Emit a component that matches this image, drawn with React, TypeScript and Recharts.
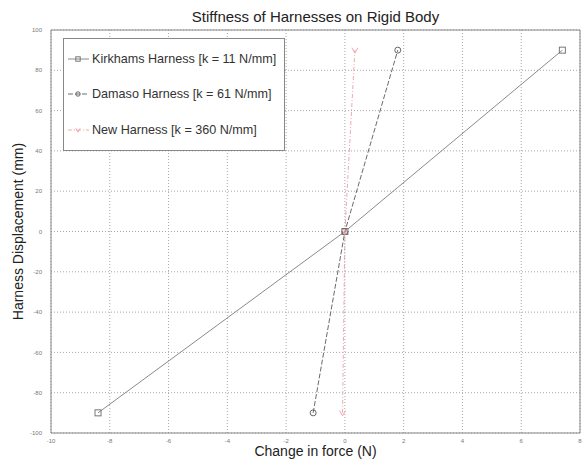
import { CartesianGrid, Line, LineChart, ReferenceArea, XAxis, YAxis } from "recharts"

const xTicks = [-10, -8, -6, -4, -2, 0, 2, 4, 6, 8]
const yTicks = [-100, -80, -60, -40, -20, 0, 20, 40, 60, 80, 100]

const kirkhamsForce = [-8.4, 0, 7.4]
const kirkhamsDisp = [-90, 0, 90]
const damasoForce = [-1.08, 0, 1.8]
const damasoDisp = [-90, 0, 90]
const newForce = [-0.08, 0, 0.34]
const newDisp = [-90, 0, 90]

const toPoints = (xs: number[], ys: number[]) => xs.map((x, i) => ({ force: x, disp: ys[i] }))

const SERIES = [
  {
    key: "kirkhams",
    name: "Kirkhams Harness [k = 11 N/mm]",
    data: toPoints(kirkhamsForce, kirkhamsDisp),
    color: "#8a8a8a",
    dash: undefined as string | undefined,
    marker: "square",
  },
  {
    key: "damaso",
    name: "Damaso Harness [k = 61 N/mm]",
    data: toPoints(damasoForce, damasoDisp),
    color: "#6a6a6a",
    dash: "5 2",
    marker: "circle",
  },
  {
    key: "new",
    name: "New Harness [k = 360 N/mm]",
    data: toPoints(newForce, newDisp),
    color: "#f0a8b2",
    dash: "4 2 1 2",
    marker: "tri",
  },
]

const FONT = "Arial, 'Liberation Sans', Helvetica, sans-serif"

function Marker({ cx, cy, kind, color, size = 3 }: { cx: number; cy: number; kind: string; color: string; size?: number }) {
  if (cx == null || cy == null) return null
  if (kind === "square")
    return <rect x={cx - size} y={cy - size} width={size * 2} height={size * 2} fill="none" stroke="#777" strokeWidth={1} />
  if (kind === "circle") return <circle cx={cx} cy={cy} r={size} fill="none" stroke="#666" strokeWidth={1} />
  return (
    <path
      d={`M${cx - size},${cy - size * 0.8} L${cx},${cy + size} L${cx + size},${cy - size * 0.8}`}
      fill="none"
      stroke={color}
      strokeWidth={1}
    />
  )
}

function LegendBox() {
  return (
    <div
      style={{
        position: "absolute",
        left: 63,
        top: 38,
        width: 222,
        height: 113,
        border: "1px solid #888",
        background: "#fff",
        fontFamily: FONT,
        fontSize: 12.6,
        color: "#333",
        boxSizing: "border-box",
        paddingTop: 2,
      }}
    >
      {SERIES.map((s) => (
        <div key={s.key} style={{ display: "flex", alignItems: "center", height: 35.5 }}>
          <svg width={25} height={10} style={{ marginLeft: 3 }}>
            <line x1={1} y1={5} x2={22} y2={5} stroke={s.color} strokeWidth={1} strokeDasharray={s.dash} />
            <Marker cx={11} cy={5} kind={s.marker} color={s.color} size={2.2} />
          </svg>
          <span>{s.name}</span>
        </div>
      ))}
    </div>
  )
}

const captionStyle = {
  position: "absolute" as const,
  left: 51,
  width: 529,
  textAlign: "center" as const,
  fontFamily: FONT,
  color: "#222",
}

export default function App() {
  return (
    <div style={{ position: "absolute", left: 0, top: 0, width: 585, height: 459, background: "#fff" }}>
      <div style={{ ...captionStyle, top: 9, fontSize: 15, lineHeight: "16px" }}>Stiffness of Harnesses on Rigid Body</div>
      <LineChart width={585} height={459} margin={{ top: 30, right: 5, bottom: 0, left: 0 }}>
        <CartesianGrid stroke="#a8a8a8" strokeDasharray="1 2" />
        <XAxis
          type="number"
          dataKey="force"
          domain={[-10, 8]}
          ticks={xTicks}
          interval={0}
          height={26}
          axisLine={false}
          tickLine={false}
          tickMargin={0}
          tick={{ fontSize: 6, fill: "#777", fontFamily: FONT }}
          allowDataOverflow
        />
        <YAxis
          type="number"
          dataKey="disp"
          domain={[-100, 100]}
          ticks={yTicks}
          interval={0}
          width={51}
          axisLine={false}
          tickLine={false}
          tickMargin={3}
          tick={{ fontSize: 6, fill: "#777", fontFamily: FONT }}
          label={{
            value: "Harness Displacement (mm)",
            angle: -90,
            position: "insideLeft",
            offset: 18,
            style: { fontSize: 14, fill: "#222", fontFamily: FONT, textAnchor: "middle" },
          }}
          allowDataOverflow
        />
        <ReferenceArea x1={-10} x2={8} y1={-100} y2={100} fill="none" stroke="#888" strokeWidth={1} ifOverflow="visible" />
        {SERIES.map((s) => (
          <Line
            key={s.key}
            data={s.data}
            dataKey="disp"
            name={s.name}
            type="linear"
            stroke={s.color}
            strokeWidth={1}
            strokeDasharray={s.dash}
            isAnimationActive={false}
            dot={(p: any) => <Marker key={`${s.key}-${p.index}`} cx={p.cx} cy={p.cy} kind={s.marker} color={s.color} />}
            activeDot={false}
          />
        ))}
      </LineChart>
      <LegendBox />
      <div style={{ ...captionStyle, top: 444, fontSize: 14, lineHeight: "14px" }}>Change in force (N)</div>
    </div>
  )
}
